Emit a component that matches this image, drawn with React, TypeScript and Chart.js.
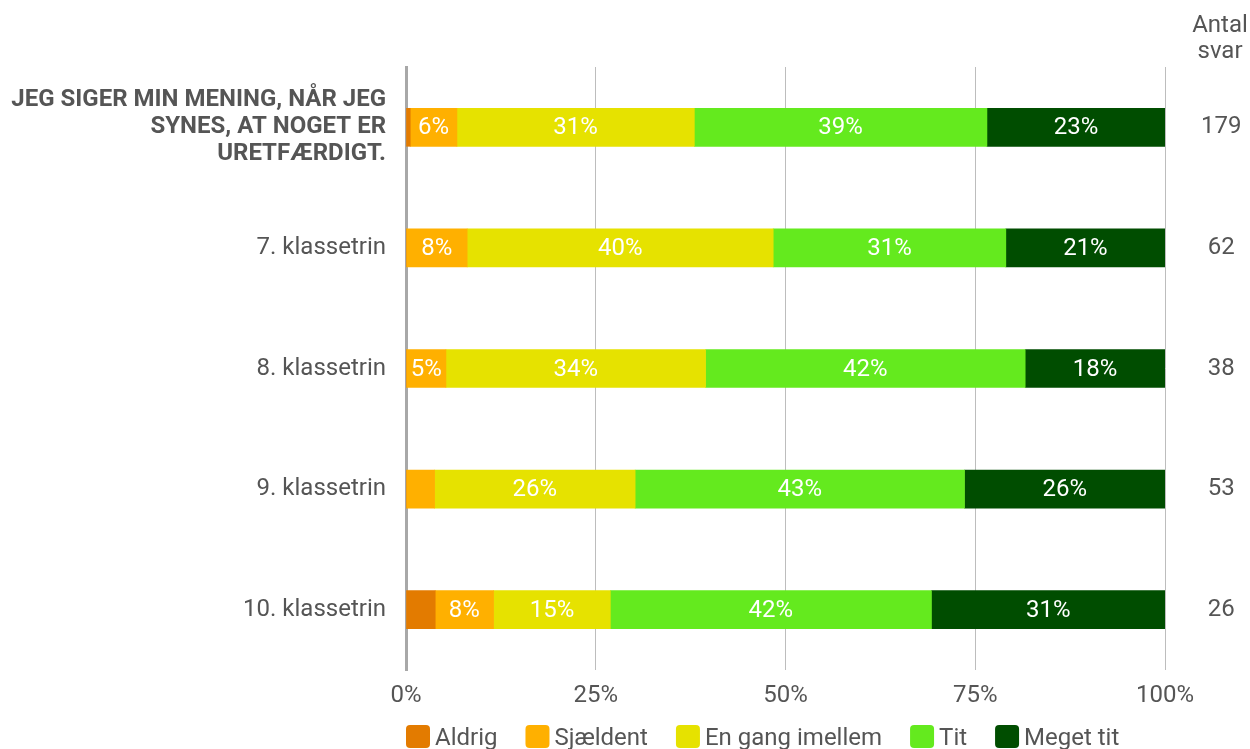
import React, { useEffect, useRef } from "react";
import { Chart, registerables } from "chart.js";

Chart.register(...registerables);

const categories: (string | string[])[] = [
  ["JEG SIGER MIN MENING, NÅR JEG", "SYNES, AT NOGET ER", "URETFÆRDIGT."],
  "7. klassetrin",
  "8. klassetrin",
  "9. klassetrin",
  "10. klassetrin",
];
const counts = ["179", "62", "38", "53", "26"];

const aldrig = [0.56, 0, 0, 0, 3.85];
const sjaeldent = [6.15, 8.06, 5.26, 3.77, 7.69];
const enGang = [31.28, 40.32, 34.21, 26.42, 15.38];
const tit = [38.55, 30.65, 42.11, 43.4, 42.31];
const megetTit = [23.46, 20.97, 18.42, 26.42, 30.77];

const seriesNames = ["Aldrig", "Sjældent", "En gang imellem", "Tit", "Meget tit"];
const seriesColors = ["#E37B00", "#FFB000", "#E6E200", "#64EA1E", "#004D00"];
const xTicks = ["0%", "25%", "50%", "75%", "100%"];
const rightTitle = ["Antal", "svar"];

const FONT = "Roboto";
const FS = 24;
const TEXT = "#555555";

const labelsPlugin = {
  id: "segLabels",
  afterDatasetsDraw(chart: any) {
    const ctx = chart.ctx;
    ctx.save();
    ctx.font = `${FS}px ${FONT}`;
    ctx.fillStyle = "#ffffff";
    ctx.textAlign = "center";
    ctx.textBaseline = "middle";
    chart.data.datasets.forEach((ds: any, di: number) => {
      const meta = chart.getDatasetMeta(di);
      meta.data.forEach((el: any, i: number) => {
        const v = ds.data[i];
        if (v >= 4.5) {
          const { x, base, y } = el.getProps(["x", "base", "y"], true);
          ctx.fillText(Math.round(v) + "%", (x + base) / 2, y + 1);
        }
      });
    });
    ctx.restore();
  },
};

const extrasPlugin = {
  id: "extras",
  afterDraw(chart: any) {
    const ctx = chart.ctx;
    const area = chart.chartArea;
    ctx.save();
    ctx.font = `${FS}px ${FONT}`;
    ctx.fillStyle = TEXT;
    ctx.textAlign = "center";
    ctx.textBaseline = "alphabetic";
    ctx.fillText(rightTitle[0], 1220, 32);
    ctx.fillText(rightTitle[1], 1220, 58);
    // legend
    let x = area.left;
    const boxW = 24;
    const boxH = 23;
    const boxTop = 725;
    ctx.textAlign = "left";
    seriesNames.forEach((name, i) => {
      ctx.fillStyle = seriesColors[i];
      ctx.beginPath();
      (ctx as any).roundRect(x, boxTop, boxW, boxH, 4);
      ctx.fill();
      ctx.fillStyle = TEXT;
      const tx = x + 29;
      ctx.fillText(name, tx, 745);
      x = tx + ctx.measureText(name).width + 28;
    });
    ctx.restore();
  },
};

export default function App() {
  const ref = useRef<HTMLCanvasElement | null>(null);
  useEffect(() => {
    document.body.style.margin = "0";
    const datasets = [aldrig, sjaeldent, enGang, tit, megetTit].map((d, i) => ({
      label: seriesNames[i],
      data: d,
      backgroundColor: seriesColors[i],
      borderWidth: 0,
      barThickness: 38,
      yAxisID: "y",
    }));
    const chart = new Chart(ref.current as HTMLCanvasElement, {
      type: "bar",
      data: { labels: categories as any, datasets },
      options: {
        indexAxis: "y",
        animation: false,
        responsive: false,
        maintainAspectRatio: false,
        layout: { padding: { top: 67, bottom: 0, left: 0, right: 0 } },
        plugins: { legend: { display: false }, tooltip: { enabled: false } },
        scales: {
          x: {
            stacked: true,
            min: 0,
            max: 100,
            afterBuildTicks: (scale: any) => {
              scale.ticks = xTicks.map((_, i) => ({ value: i * 25 }));
            },
            ticks: {
              callback: (_v: any, i: number) => xTicks[i],
              font: { family: FONT, size: FS },
              color: TEXT,
              padding: 12,
            },
            grid: { color: "#bdbdbd", lineWidth: 1, drawTicks: false },
            border: { display: false },
            afterFit: (scale: any) => {
              scale.height = 749 - 670;
            },
          },
          y: {
            stacked: true,
            type: "category",
            offset: true,
            grid: { display: false, drawTicks: false },
            border: { display: true, color: "#a8a8a8", width: 3 },
            ticks: {
              padding: 20,
              color: TEXT,
              font: (c: any) =>
                c.index === 0
                  ? { family: FONT, size: FS, weight: "bold", lineHeight: 1.125 }
                  : { family: FONT, size: FS, weight: "normal", lineHeight: 1.125 },
            },
            afterFit: (scale: any) => {
              scale.width = 406;
            },
          },
          y2: {
            type: "category",
            position: "right",
            labels: counts,
            offset: true,
            grid: { display: false, drawTicks: false },
            border: { display: false },
            ticks: {
              padding: 36,
              crossAlign: "center",
              color: TEXT,
              font: { family: FONT, size: FS },
            },
            afterFit: (scale: any) => {
              scale.width = 1250 - 1165;
            },
          },
        },
      } as any,
      plugins: [labelsPlugin, extrasPlugin],
    });
    return () => chart.destroy();
  }, []);
  return (
    <div style={{ position: "fixed", left: 0, top: 0, width: 1250, height: 749 }}>
      <canvas ref={ref} width={1250} height={749} style={{ width: 1250, height: 749 }} />
    </div>
  );
}
